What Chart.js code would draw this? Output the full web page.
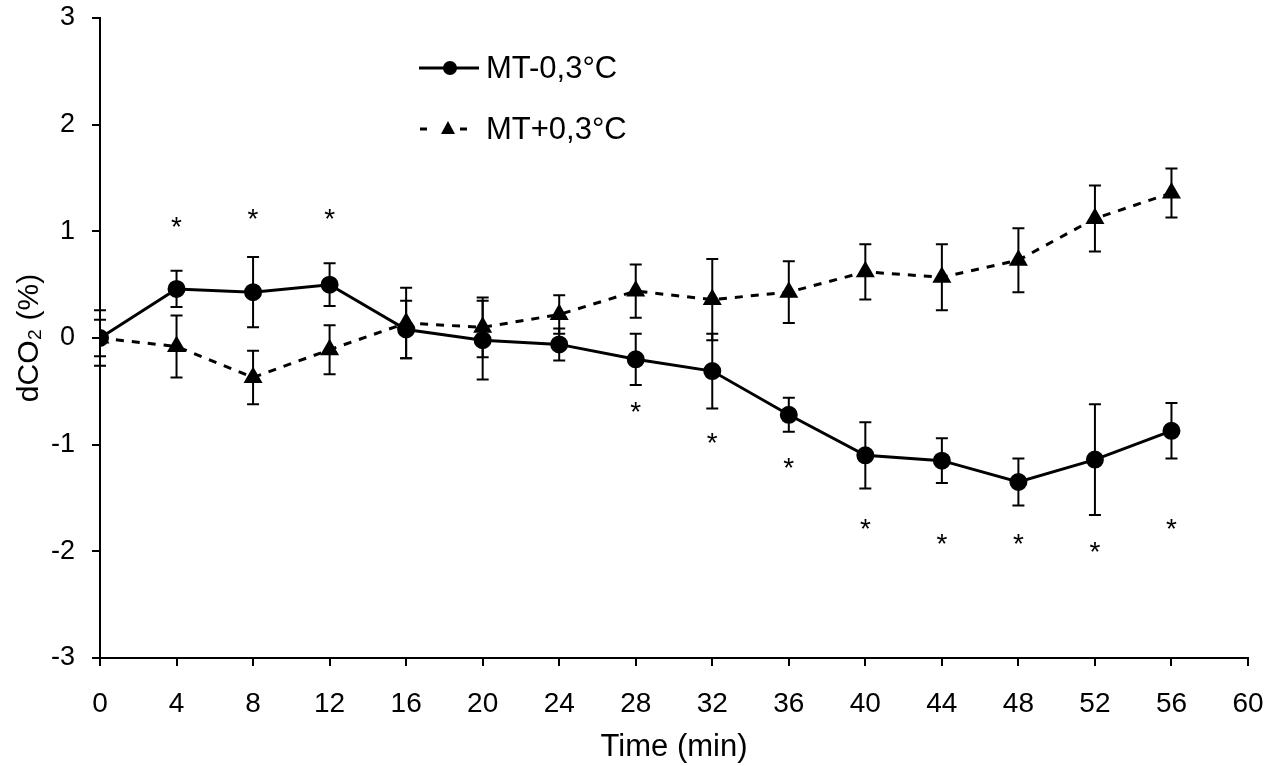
<!DOCTYPE html>
<html>
<head>
<meta charset="utf-8">
<script src="https://cdn.jsdelivr.net/npm/chart.js@4/dist/chart.umd.min.js"></script>
<style>
    html, body { margin: 0; padding: 0; background: #fff; }
    #wrap { width: 1276px; height: 766px; }
</style>
</head>
<body>
<div id="wrap"><canvas id="co2Chart"></canvas></div>
<script>
// Datos
const times = [0, 4, 8, 12, 16, 20, 24, 28, 32, 36, 40, 44, 48, 52, 56];
const coldMeans = [0, 0.46, 0.43, 0.50, 0.08, -0.02, -0.06, -0.20, -0.31, -0.72, -1.10, -1.15, -1.35, -1.14, -0.87];
const coldErrors = [0.17, 0.17, 0.33, 0.20, 0.27, 0.37, 0.15, 0.24, 0.35, 0.16, 0.31, 0.21, 0.22, 0.52, 0.26];
const warmMeans = [0, -0.08, -0.37, -0.11, 0.14, 0.10, 0.22, 0.44, 0.36, 0.43, 0.62, 0.57, 0.73, 1.12, 1.36];
const warmErrors = [0.26, 0.29, 0.25, 0.23, 0.33, 0.28, 0.18, 0.25, 0.38, 0.29, 0.26, 0.31, 0.30, 0.31, 0.23];
const starTimes = [4, 8, 12, 28, 32, 36, 40, 44, 48, 52, 56];
const starValues = [1.09, 1.16, 1.16, -0.65, -0.94, -1.17, -1.74, -1.88, -1.88, -1.96, -1.74];
const seriesLabels = ['MT-0,3°C', 'MT+0,3°C'];

const FONT = 'Arial, "Liberation Sans", sans-serif';

const errorBarPlugin = {
    id: 'errorBars',
    beforeDatasetsDraw(chart) {
        const ctx = chart.ctx;
        const x = chart.scales.x, y = chart.scales.y;
        const sets = [[coldMeans, coldErrors], [warmMeans, warmErrors]];
        ctx.save();
        ctx.strokeStyle = '#000';
        ctx.lineWidth = 2;
        sets.forEach(([means, errs]) => {
            times.forEach((t, i) => {
                const px = x.getPixelForValue(t);
                const top = y.getPixelForValue(means[i] + errs[i]);
                const bot = y.getPixelForValue(means[i] - errs[i]);
                ctx.beginPath();
                ctx.moveTo(px, top); ctx.lineTo(px, bot);
                ctx.moveTo(px - 6, top); ctx.lineTo(px + 6, top);
                ctx.moveTo(px - 6, bot); ctx.lineTo(px + 6, bot);
                ctx.stroke();
            });
        });
        ctx.restore();
    },
    afterDatasetsDraw(chart) {
        const ctx = chart.ctx;
        const x = chart.scales.x, y = chart.scales.y;
        ctx.save();
        ctx.fillStyle = '#000';
        ctx.font = '28px ' + FONT;
        ctx.textAlign = 'center';
        ctx.textBaseline = 'alphabetic';
        const m = ctx.measureText('*');
        const mid = (m.actualBoundingBoxAscent - m.actualBoundingBoxDescent) / 2;
        starTimes.forEach((t, i) => {
            ctx.fillText('*', x.getPixelForValue(t), y.getPixelForValue(starValues[i]) + mid);
        });

        // leyenda
        ctx.font = '31px ' + FONT;
        ctx.textAlign = 'left';
        ctx.textBaseline = 'middle';
        const rows = [68, 129];
        // serie 1
        ctx.strokeStyle = '#000';
        ctx.lineWidth = 3;
        ctx.beginPath();
        ctx.moveTo(419, rows[0]); ctx.lineTo(479, rows[0]);
        ctx.stroke();
        ctx.beginPath();
        ctx.arc(450, rows[0], 7, 0, Math.PI * 2);
        ctx.fill();
        ctx.fillText(seriesLabels[0], 486, rows[0] + 1);
        // serie 2
        ctx.beginPath();
        ctx.moveTo(420, rows[1]); ctx.lineTo(427, rows[1]);
        ctx.moveTo(460, rows[1]); ctx.lineTo(467, rows[1]);
        ctx.stroke();
        ctx.beginPath();
        ctx.moveTo(448, rows[1] - 8);
        ctx.lineTo(455, rows[1] + 5);
        ctx.lineTo(441, rows[1] + 5);
        ctx.closePath();
        ctx.fill();
        ctx.fillText(seriesLabels[1], 486, rows[1] + 1);
        ctx.restore();
    }
};

function initChart() {
    const ctx = document.getElementById('co2Chart').getContext('2d');
    new Chart(ctx, {
        type: 'line',
        data: {
            datasets: [
                {
                    label: seriesLabels[0],
                    data: times.map((t, i) => ({ x: t, y: coldMeans[i] })),
                    borderColor: '#000',
                    backgroundColor: '#000',
                    borderWidth: 3,
                    pointStyle: 'circle',
                    pointRadius: 7.5,
                    tension: 0
                },
                {
                    label: seriesLabels[1],
                    data: times.map((t, i) => ({ x: t, y: warmMeans[i] })),
                    borderColor: '#000',
                    backgroundColor: '#000',
                    borderWidth: 3,
                    borderDash: [8, 8],
                    pointStyle: 'triangle',
                    pointRadius: 8,
                    tension: 0
                }
            ]
        },
        options: {
            responsive: true,
            maintainAspectRatio: false,
            animation: false,
            layout: { padding: { top: 18, right: 28, left: 0, bottom: 0 } },
            plugins: {
                legend: { display: false },
                tooltip: { enabled: false }
            },
            scales: {
                x: {
                    type: 'linear',
                    min: 0,
                    max: 60,
                    afterFit: s => { s.height = 108; s.paddingLeft = 0; s.paddingRight = 0; },
                    ticks: { stepSize: 4, color: '#000', font: { size: 28, family: FONT }, padding: 21, maxRotation: 0 },
                    grid: { drawOnChartArea: false, drawTicks: true, tickLength: 8, color: '#000', lineWidth: 2 },
                    border: { display: true, color: '#000', width: 2 },
                    title: { display: true, text: 'Time (min)', color: '#000', font: { size: 31, family: FONT }, padding: { top: 4, bottom: 0 } }
                },
                y: {
                    min: -3,
                    max: 3,
                    afterFit: s => { s.width = 100; s.paddingTop = 0; s.paddingBottom = 0; },
                    ticks: { stepSize: 1, color: '#000', font: { size: 27, family: FONT }, padding: 17 },
                    grid: { drawOnChartArea: false, drawTicks: true, tickLength: 8, color: '#000', lineWidth: 2 },
                    border: { display: true, color: '#000', width: 2 },
                    title: { display: true, text: 'dCO₂ (%)', color: '#000', font: { size: 30, family: FONT }, padding: { top: 12, bottom: 0 } }
                }
            }
        },
        plugins: [errorBarPlugin]
    });
}

document.addEventListener('DOMContentLoaded', initChart);
</script>
</body>
</html>
